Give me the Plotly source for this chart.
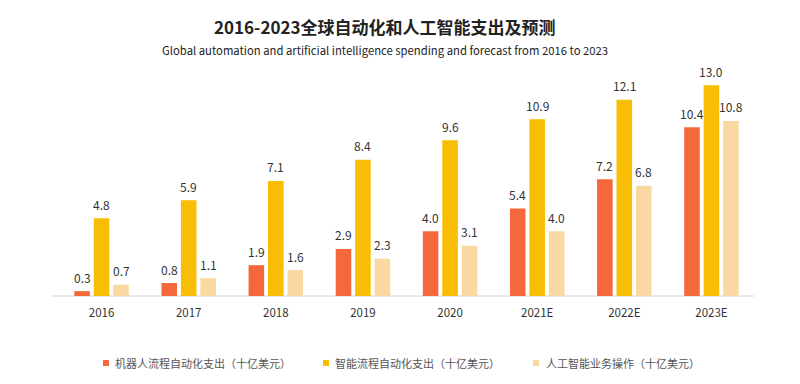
import plotly.graph_objects as go

categories = ["2016", "2017", "2018", "2019", "2020", "2021E", "2022E", "2023E"]
rpa = [0.3, 0.8, 1.9, 2.9, 4.0, 5.4, 7.2, 10.4]
ipa = [4.8, 5.9, 7.1, 8.4, 9.6, 10.9, 12.1, 13.0]
aiops = [0.7, 1.1, 1.6, 2.3, 3.1, 4.0, 6.8, 10.8]
names = ["机器人流程自动化支出（十亿美元）", "智能流程自动化支出（十亿美元）", "人工智能业务操作（十亿美元）"]
colors = ["#F4683B", "#F8BD05", "#F9D9A1"]
title = "2016-2023全球自动化和人工智能支出及预测"
subtitle = "Global automation and artificial intelligence spending and forecast from 2016 to 2023"

font = "Noto Sans CJK SC, Noto Sans, sans-serif"
OFF = 8  # page body margin
W, H = 800 - OFF, 384 - OFF
# plot area in screen pixels: x 58..755, y 69..296
SL, SR, ST, SB = 58, 755, 69, 296
L, T = SL - OFF, ST - OFF
R, B = W - (SR - OFF), H - (SB - OFF)
PW, PH = SR - SL, SB - ST


def px_x(px):
    return (px - SL) / PW


def px_y(py):
    return (SB - py) / PH


fig = go.Figure()
series = [rpa, ipa, aiops]
for vals, name, col in zip(series, names, colors):
    fig.add_trace(go.Bar(
        x=categories, y=vals, name=name, marker=dict(color=col, line=dict(width=0)),
        showlegend=False, hoverinfo="x+y",
    ))

# value labels above bars (x = category index on the category axis)
offsets = [-19.5, 0, 19.5]
for vals, dx in zip(series, offsets):
    for i, v in enumerate(vals):
        fig.add_annotation(x=i, y=v, text=f"{v:.1f}", showarrow=False, xshift=dx, yshift=14,
                           yanchor="middle", xanchor="center",
                           font=dict(size=12, color="#333333", family=font))

# titles
fig.add_annotation(text=f"<b>{title}</b>", xref="paper", yref="paper",
                   x=px_x(385), y=px_y(26), xanchor="center", yanchor="middle",
                   showarrow=False, font=dict(size=17, color="#222222", family=font))
fig.add_annotation(text=subtitle, xref="paper", yref="paper", x=px_x(385), y=px_y(50),
                   xanchor="center", yanchor="middle", showarrow=False,
                   font=dict(size=11.3, color="#222222", family=font))

# custom legend
legend_sq = [103, 323, 533]
legend_tx = [113, 333, 544]
for name, col, sx, tx in zip(names, colors, legend_sq, legend_tx):
    fig.add_shape(type="rect", xref="paper", yref="paper", x0=px_x(sx), x1=px_x(sx + 6),
                  y0=px_y(366), y1=px_y(360), fillcolor=col, line=dict(width=0))
    fig.add_annotation(text=name, xref="paper", yref="paper", x=px_x(tx), y=px_y(363),
                       xanchor="left", yanchor="middle", showarrow=False,
                       font=dict(size=11, color="#555555", family=font))

# baseline
fig.add_shape(type="line", xref="paper", yref="paper", x0=px_x(52), x1=px_x(754),
              y0=0, y1=0, line=dict(color="#D5D5D5", width=1), layer="below")

fig.update_layout(
    width=W, height=H,
    margin=dict(l=L, r=R, t=T, b=B, autoexpand=False),
    paper_bgcolor="white", plot_bgcolor="white",
    barmode="group", bargap=0.33, bargroupgap=0.2,
    font=dict(family=font, color="#333333"),
    showlegend=False,
)
fig.update_xaxes(type="category", categoryorder="array", categoryarray=categories,
                 range=[-0.5, len(categories) - 0.5],
                 showline=False, ticks="", automargin=False, ticklabelstandoff=8,
                 tickfont=dict(size=11.5, color="#333333", family=font), showgrid=False)
fig.update_yaxes(range=[0, 14], visible=False, showgrid=False, automargin=False)

fig.write_html("out.html")
